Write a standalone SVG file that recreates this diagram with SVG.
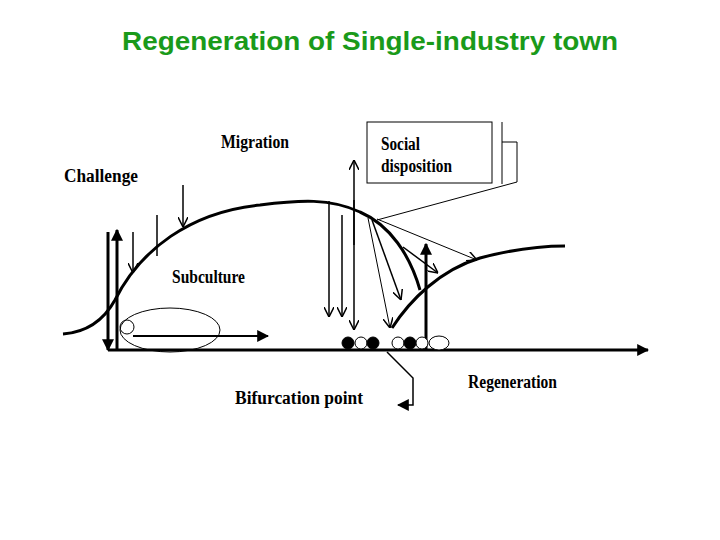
<svg xmlns="http://www.w3.org/2000/svg" width="720" height="540" viewBox="0 0 720 540">
<style>
.t{font-family:"Liberation Serif",serif;font-weight:bold;font-size:18px;fill:#000}
.c{fill:none;stroke:#000;stroke-width:3}
.l{fill:none;stroke:#000;stroke-width:1.5}
.lt{fill:none;stroke:#000;stroke-width:1}
</style>
<defs>
<marker id="f" viewBox="0 0 10 10" refX="9" refY="5" markerWidth="12" markerHeight="12" markerUnits="userSpaceOnUse" orient="auto"><path d="M0,0L10,5L0,10z" fill="#000"/></marker>
<marker id="v" viewBox="0 0 10 10" refX="10" refY="5" markerWidth="10" markerHeight="10" markerUnits="userSpaceOnUse" orient="auto"><path d="M0,0L10,5L0,10" fill="none" stroke="#000" stroke-width="1.5"/></marker>
</defs>
<rect width="720" height="540" fill="#fff"/>
<text x="122" y="50" textLength="496" lengthAdjust="spacingAndGlyphs" font-family="Liberation Sans,sans-serif" font-weight="bold" font-size="25" fill="#1a9a1a">Regeneration of Single-industry town</text>
<g id="connectors">
<path class="c" d="M63,334 C90,332 105,318 115,300 C140,250 190,212 260,205 C300,200 330,198 360,212 C390,225 410,255 420,290"/>
<path class="c" d="M392,328 C410,300 440,270 480,258 C510,250 540,246 565,246"/>
<line x1="108" y1="350" x2="648" y2="350" stroke="#000" stroke-width="3" marker-end="url(#f)"/>
<line x1="108" y1="232" x2="108" y2="350" stroke="#000" stroke-width="3" marker-end="url(#f)"/>
<line x1="117" y1="350" x2="117" y2="230" stroke="#000" stroke-width="3" marker-end="url(#f)"/>
<line class="l" x1="133" y1="232" x2="133" y2="273" marker-end="url(#v)"/>
<line class="l" x1="157" y1="215" x2="157" y2="256"/>
<line class="l" x1="183" y1="185" x2="183" y2="227" marker-end="url(#v)"/>
<line x1="133" y1="336" x2="268" y2="336" stroke="#000" stroke-width="2" marker-end="url(#f)"/>
<line class="l" x1="329" y1="201" x2="329" y2="317" marker-end="url(#v)"/>
<line class="l" x1="342" y1="215" x2="342" y2="317" marker-end="url(#v)"/>
<line class="l" x1="354" y1="245" x2="354" y2="160" marker-end="url(#v)"/>
<line class="l" x1="354" y1="200" x2="354" y2="330" marker-end="url(#v)"/>
<polyline class="lt" points="502,122 502,184"/>
<polyline class="lt" points="502,142 517,142 517,182 377,220"/>
<line class="lt" x1="377" y1="219" x2="477" y2="260" marker-end="url(#v)"/>
<line class="lt" x1="368" y1="218" x2="390" y2="328" marker-end="url(#v)"/>
<line class="l" x1="372" y1="220" x2="401" y2="300" marker-end="url(#v)"/>
<line class="l" x1="403" y1="247" x2="438" y2="273" marker-end="url(#v)"/>
<line x1="426" y1="350" x2="426" y2="244" stroke="#000" stroke-width="3" marker-end="url(#f)"/>
<polyline class="l" points="387,352 413,378 413,405 398,405" marker-end="url(#f)"/>
</g>
<g id="subculture-ellipse"><ellipse cx="170" cy="330" rx="50" ry="22" class="lt"/><circle cx="127" cy="327" r="7" class="lt"/></g>
<g id="balls" stroke="#000" stroke-width="1">
<circle cx="348" cy="343" r="6" fill="#000"/>
<circle cx="361" cy="343" r="6" fill="#fff"/>
<circle cx="373" cy="343" r="6" fill="#000"/>
<circle cx="398" cy="343" r="6" fill="#fff"/>
<circle cx="410" cy="343" r="6" fill="#000"/>
<circle cx="422" cy="343" r="6" fill="#fff"/>
<ellipse cx="439" cy="343" rx="10" ry="7" fill="#fff"/>
</g>
<g id="social"><rect x="367" y="122" width="125" height="61" fill="#fff" stroke="#000" stroke-width="1"/><text class="t" x="381" y="150" textLength="39" lengthAdjust="spacingAndGlyphs">Social</text><text class="t" x="381" y="172" textLength="71" lengthAdjust="spacingAndGlyphs">disposition</text></g>
<g id="challenge"><text class="t" x="64" y="182" textLength="74" lengthAdjust="spacingAndGlyphs">Challenge</text></g>
<g id="migration"><text class="t" x="221" y="148" textLength="68" lengthAdjust="spacingAndGlyphs">Migration</text></g>
<g id="subculture"><text class="t" x="172" y="283" textLength="73" lengthAdjust="spacingAndGlyphs">Subculture</text></g>
<g id="bifurcation"><text class="t" x="235" y="404" textLength="128" lengthAdjust="spacingAndGlyphs">Bifurcation point</text></g>
<g id="regeneration"><text class="t" x="468" y="388" textLength="89" lengthAdjust="spacingAndGlyphs">Regeneration</text></g>
</svg>
